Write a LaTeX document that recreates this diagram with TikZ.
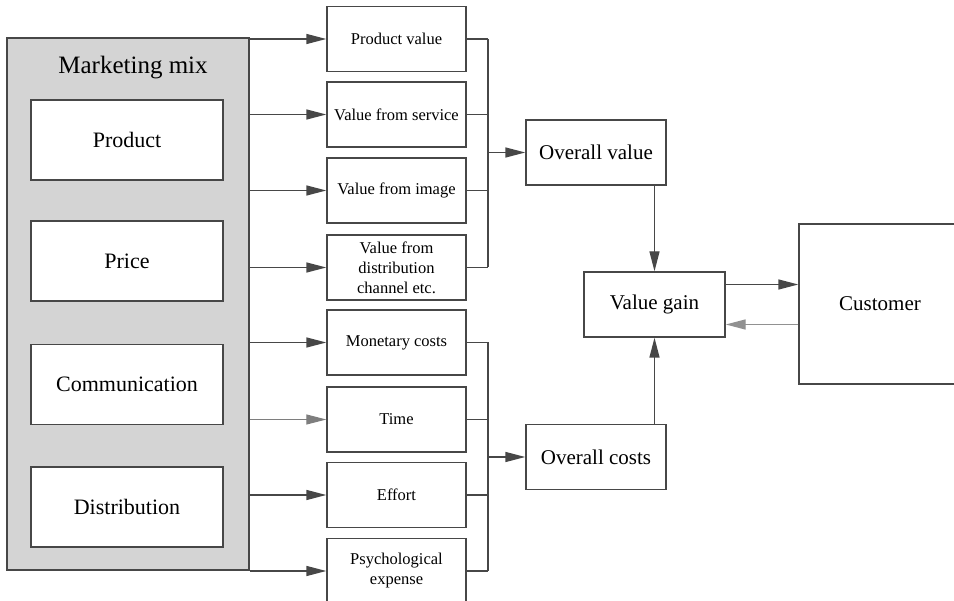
\documentclass[tikz,border=0pt]{standalone}
\usepackage{fontspec}
\setmainfont{Liberation Serif}
\usetikzlibrary{calc,arrows.meta,positioning}
\definecolor{linegray}{HTML}{474747}
\definecolor{mixgray}{HTML}{D4D4D4}

\begin{document}
\begin{tikzpicture}[x=1pt,y=-1pt,
    every node/.style={inner sep=0pt},
    ln/.style={draw=linegray,line width=1.4pt},
    box/.style={ln,fill=white,rectangle},
    mixpart/.style={box,minimum width=192pt,minimum height=80pt,font=\fontsize{22}{26}\selectfont},
    part/.style={box,minimum width=139pt,minimum height=65pt,align=center,font=\fontsize{16.5}{20}\selectfont},
    sumbox/.style={box,minimum width=140pt,minimum height=65pt,font=\fontsize{21}{25}\selectfont},
    arr/.style={ln,-{Triangle[length=20pt,width=10pt]}}]
      \useasboundingbox (0,0) rectangle (954,601);

      \node[ln,fill=mixgray,minimum width=242pt,minimum height=532pt] (mix) at (128,304) {};
      \node[font=\fontsize{25}{30}\selectfont] (mixtitle) at (133,68) {Marketing mix};
      \node[mixpart] (product) at (127,140) {Product};
      \node[mixpart] (price) at (127,261) {Price};
      \node[mixpart] (comm) at (127,384.5) {Communication};
      \node[mixpart] (distr) at (127,507) {Distribution};

      \node[part] (pv) at (396.5,39) {Product value};
      \node[part] (vs) at (396.5,114.5) {Value from service};
      \node[part] (vi) at (396.5,190.5) {Value from image};
      \node[part] (vd) at (396.5,267.5) {Value from\\distribution\\channel etc.};
      \node[part] (mc) at (396.5,342.5) {Monetary costs};
      \node[part] (ti) at (396.5,419.5) {Time};
      \node[part] (ef) at (396.5,495) {Effort};
      \node[part] (ps) at (396.5,571) {Psychological\\expense};

      \node[sumbox] (ov) at (596,152.5) {Overall value};
      \node[sumbox] (oc) at (596,457) {Overall costs};
      \node[sumbox,minimum width=141pt] (vg) at (654.5,304.5) {Value gain};
      \node[sumbox,minimum width=162pt,minimum height=160pt] (cu) at (880,304) {Customer};

      \coordinate (vbus) at (488,152.5);
      \coordinate (cbus) at (488,457);
      \coordinate (togo) at ($(vg.east)+(0,-20)$);
      \coordinate (back) at ($(vg.east)+(0,20)$);

      \foreach \n in {pv,vs,vi,vd,mc,ef,ps}
        \draw[arr] (mix.east |- \n.west) -- (\n.west);
      \draw[arr,draw=linegray!70,line width=1pt] (mix.east |- ti.west) -- (ti.west);

      \foreach \n in {pv,vs,vi,vd}
        \draw[ln] (\n.east) -- (\n.east -| vbus);
      \draw[ln] (pv.east -| vbus) -- (vd.east -| vbus);
      \draw[arr] (vbus) -- (ov.west);

      \foreach \n in {mc,ti,ef,ps}
        \draw[ln] (\n.east) -- (\n.east -| cbus);
      \draw[ln] (mc.east -| cbus) -- (ps.east -| cbus);
      \draw[arr] (cbus) -- (oc.west);

      \draw[arr] (vg.north |- ov.south) -- (vg.north);
      \draw[arr] (vg.south |- oc.north) -- (vg.south);
      \draw[arr] (togo) -- (togo -| cu.west);
      \draw[arr,draw=linegray!60] (back -| cu.west) -- (back);
    \end{tikzpicture}
\end{document}
